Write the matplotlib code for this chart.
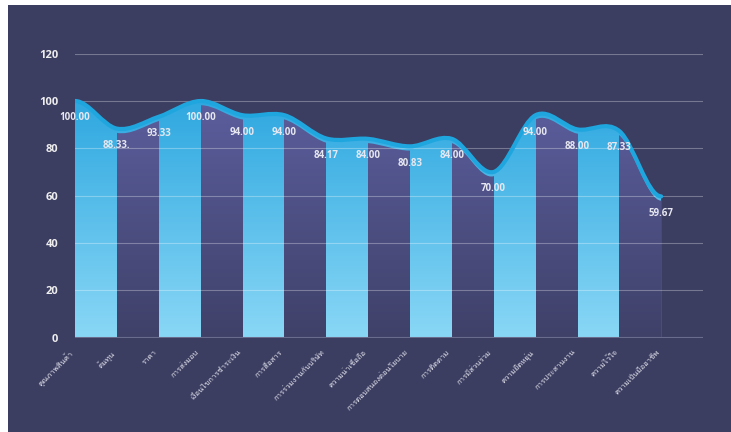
import numpy as np
import matplotlib
matplotlib.use("Agg")
import matplotlib.pyplot as plt
from matplotlib import font_manager
from matplotlib.ft2font import FT2Font
from matplotlib.path import Path
from matplotlib.patches import PathPatch, Rectangle
from matplotlib.colors import LinearSegmentedColormap

categories = ["คุณภาพสินค้า", "ต้นทุน", "ราคา", "การส่งมอบ", "เงื่อนไขการชำระเงิน",
              "การสื่อสาร", "การร่วมงานกับบริษัท", "ความน่าเชื่อถือ", "การตอบสนองต่อนโยบาย",
              "การติดตาม", "การมีส่วนร่วม", "ความยืดหยุ่น", "การประสานงาน", "ความไว้ใจ",
              "ความเป็นมืออาชีพ"]
scores = [100.00, 88.33, 93.33, 100.00, 94.00, 94.00, 84.17, 84.00, 80.83,
          84.00, 70.00, 94.00, 88.00, 87.33, 59.67]
score_labels = ["100.00", "88.33.", "93.33", "100.00", "94.00", "94.00", "84.17", "84.00",
                "80.83", "84.00", "70.00", "94.00", "88.00", "87.33", "59.67"]
y_ticks = [0, 20, 40, 60, 80, 100, 120]

BG = "#3b3d61"


def thai_font():
    # first installed font that has Thai glyphs, if any
    for f in font_manager.fontManager.ttflist:
        try:
            if FT2Font(f.fname).get_char_index(0x0E01):
                return f.name
        except Exception:
            pass
    return None


th = thai_font()
fams = ["Open Sans", "DejaVu Sans"]
if th:
    fams = ["Open Sans", th, "DejaVu Sans"]
plt.rcParams["font.family"] = fams

fig = plt.figure(figsize=(7.31, 4.32), dpi=100, facecolor="white")
fig.patches.append(Rectangle((8 / 731, 0), 1, 1 - 5 / 432, transform=fig.transFigure,
                             facecolor=BG, edgecolor="none", zorder=-10))

ax = fig.add_axes([75 / 731, 1 - 337.5 / 432, 628 / 731, 283.8 / 432])
ax.set_facecolor("none")

# smooth curve (catmull-rom as bezier, flat at the ends)
x = np.arange(len(scores), dtype=float)
y = np.array(scores)
pts = np.column_stack([x, y])
n = len(pts)
verts = [pts[0]]
codes = [Path.MOVETO]
for i in range(n - 1):
    p_prev = pts[i - 1] if i > 0 else pts[i]
    p_next2 = pts[i + 2] if i + 2 < n else pts[i + 1]
    c1 = pts[i] + (pts[i + 1] - p_prev) / 6 if i > 0 else pts[i] + np.array([1 / 3, 0])
    c2 = pts[i + 1] - (p_next2 - pts[i]) / 6 if i + 2 < n else pts[i + 1] - np.array([1 / 3, 0])
    verts += [c1, c2, pts[i + 1]]
    codes += [Path.CURVE4] * 3
verts = np.array(verts)
line_path = Path(verts, codes)


def area_patch(v):
    av = np.vstack([[x[0], 0], v, [x[-1], 0], [x[0], 0]])
    ac = [Path.MOVETO, Path.LINETO] + codes[1:] + [Path.LINETO, Path.CLOSEPOLY]
    p = PathPatch(Path(av, ac), facecolor="none", edgecolor="none", transform=ax.transData)
    ax.add_patch(p)
    return p


area = area_patch(verts)
# purple bands sit a little under the line
area_low = area_patch(verts - np.array([0, 1.8]))

grad = np.linspace(0, 1, 256).reshape(-1, 1)
blue = LinearSegmentedColormap.from_list("b", ["#89d7f6", "#2ba6df"])
purple = LinearSegmentedColormap.from_list("p", ["#3f4169", "#5c5f9f"])

im = ax.imshow(grad, cmap=blue, origin="lower", aspect="auto",
               extent=[x[0], x[-1], 0, 104], zorder=1)
im.set_clip_path(area)
for i in range(1, n - 1, 2):
    imp = ax.imshow(grad, cmap=purple, origin="lower", aspect="auto",
                    extent=[i, i + 1, 0, 104], zorder=2)
    imp.set_clip_path(area_low)

ax.add_patch(PathPatch(line_path, facecolor="none", edgecolor="#1fa6de", lw=3,
                       capstyle="round", zorder=4))

for xi, yi, lab in zip(x, y, score_labels):
    ax.annotate(lab, (xi, yi), xytext=(0, -17), textcoords="offset pixels",
                ha="center", va="center", fontsize=7, fontweight="bold",
                color="#e6e7f0", zorder=5)

for t in y_ticks[1:]:
    ax.axhline(t, color="white", alpha=0.3, lw=0.8, zorder=3)
ax.axhline(0, color="#8a8cab", alpha=0.6, lw=1.5, zorder=3)

ax.set_xlim(0, 15)
ax.set_ylim(0, 120)
ax.set_yticks(y_ticks)
ax.set_xticks(x)
ax.set_xticklabels(categories, rotation=45, ha="right", va="top", fontsize=5.5,
                   color="#e6e7f0")
ax.tick_params(axis="y", length=0, pad=12, labelsize=8, labelcolor="#eeeeee")
ax.tick_params(axis="x", length=0, pad=8)
for lab in ax.get_yticklabels():
    lab.set_fontweight("bold")
for s in ax.spines.values():
    s.set_visible(False)

fig.savefig("out.png", dpi=100, facecolor=fig.get_facecolor())
